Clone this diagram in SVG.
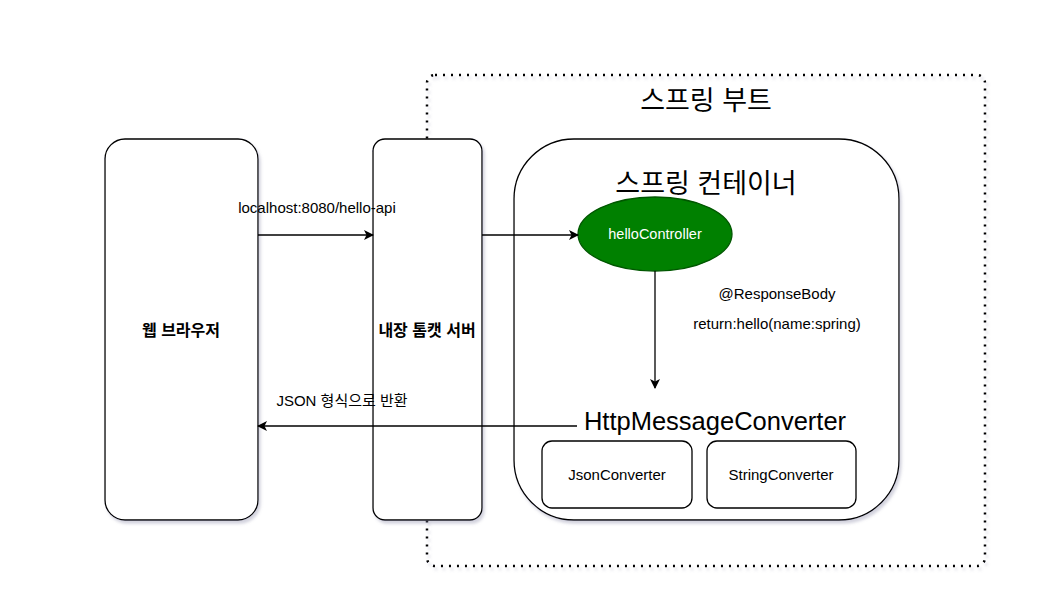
<svg xmlns="http://www.w3.org/2000/svg" width="1044" height="612" viewBox="0 0 1044 612">
<style>
.box{fill:#ffffff;stroke:#000000;stroke-width:1.3;}
.t{font-family:"Liberation Sans","Noto Sans CJK KR",sans-serif;fill:#000000;text-anchor:middle;}
.s13{font-size:15px;}
.k16{font-size:16px;}
.s24{font-size:25.5px;}
.k27{font-size:27px;}
.b{font-weight:bold;}
.conn{stroke:#000000;stroke-width:1.3;fill:none;}
</style>
<defs>
<filter id="sh" x="-10%" y="-10%" width="130%" height="130%">
<feDropShadow dx="2" dy="3" stdDeviation="1.8" flood-color="#8080a0" flood-opacity="0.35"/>
</filter>
<marker id="arr" viewBox="0 0 10 10" refX="9" refY="5" markerWidth="10" markerHeight="10" markerUnits="userSpaceOnUse" orient="auto">
<path d="M0,0 L10,5 L0,10 L2.5,5 Z" fill="#000000"/>
</marker>
</defs>
<rect width="1044" height="612" fill="#ffffff"/>
<g id="spring-boot">
<rect x="427" y="75" width="558" height="491" rx="8" fill="none" stroke="#000000" stroke-width="2.5" stroke-dasharray="2 6" filter="url(#sh)"/>
<text class="t k27" x="706" y="110">스프링 부트</text>
</g>
<g id="web-browser">
<rect class="box" x="105" y="139" width="153" height="381" rx="20" filter="url(#sh)"/>
<text class="t k16 b" x="181" y="336">웹 브라우저</text>
</g>
<g id="tomcat">
<rect class="box" x="373" y="139" width="109" height="381" rx="12" filter="url(#sh)"/>
<text class="t k16 b" x="427" y="336">내장 톰캣 서버</text>
</g>
<g id="spring-container">
<rect class="box" x="514" y="139" width="385" height="381" rx="60" filter="url(#sh)"/>
<text class="t k27" x="706" y="193">스프링 컨테이너</text>
</g>
<g id="hello-controller">
<ellipse cx="655" cy="234" rx="77" ry="37" fill="#008000" stroke="#005700" stroke-width="1.3"/>
<text class="t" x="655" y="239" style="fill:#ffffff;font-size:14.5px">helloController</text>
</g>
<g id="http-message-converter">
<text class="t s24" x="715" y="430">HttpMessageConverter</text>
</g>
<g id="json-converter">
<rect class="box" x="542" y="441" width="150" height="67" rx="10"/>
<text class="t s13" x="617" y="480">JsonConverter</text>
</g>
<g id="string-converter">
<rect class="box" x="707" y="441" width="149" height="67" rx="10"/>
<text class="t s13" x="781" y="480">StringConverter</text>
</g>
<g id="connectors">
<line class="conn" x1="258" y1="235" x2="373" y2="235" marker-end="url(#arr)"/>
<text class="t s13" x="317" y="213">localhost:8080/hello-api</text>
<line class="conn" x1="482" y1="235" x2="578" y2="235" marker-end="url(#arr)"/>
<line class="conn" x1="655" y1="271" x2="655" y2="388" marker-end="url(#arr)"/>
<text class="t s13" x="777" y="299">@ResponseBody</text>
<text class="t s13" x="777" y="329">return:hello(name:spring)</text>
<line class="conn" x1="577" y1="426" x2="258" y2="426" marker-end="url(#arr)"/>
<text class="t s13" x="342" y="406">JSON 형식으로 반환</text>
</g>
</svg>
